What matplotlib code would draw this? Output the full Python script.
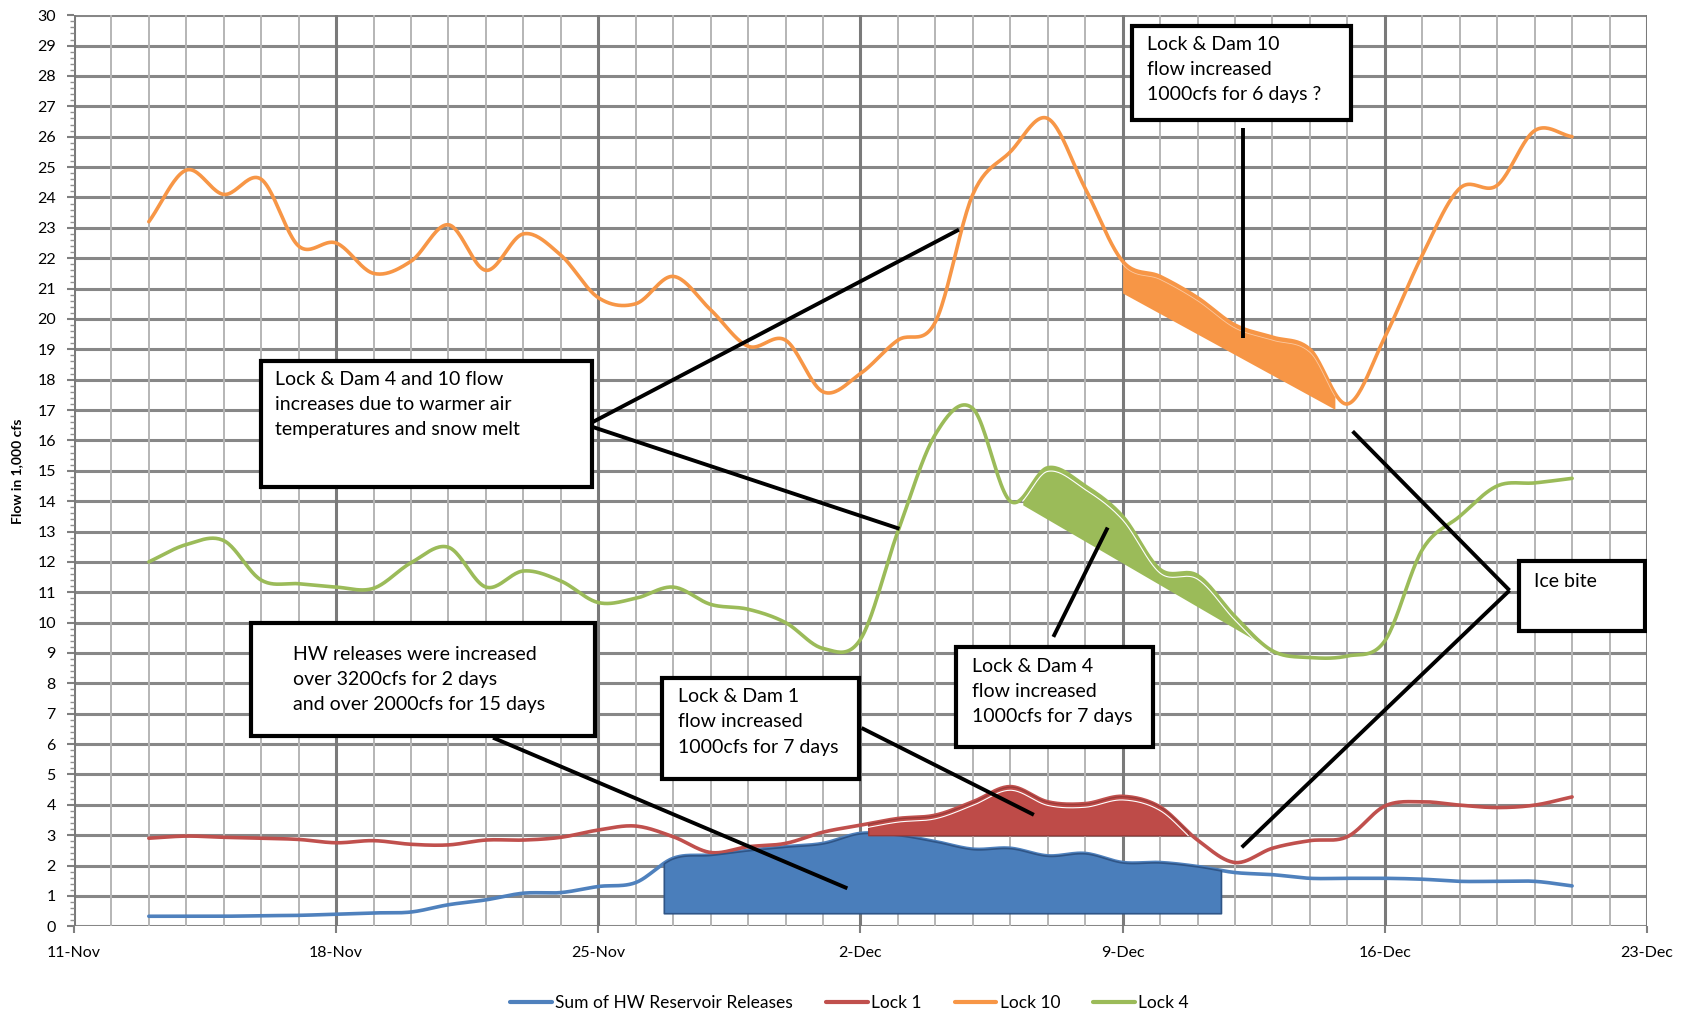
import numpy as np
import matplotlib
matplotlib.use('Agg')
import matplotlib.pyplot as plt
from matplotlib.patches import Rectangle

plt.rcParams['font.family'] = ['Lato', 'DejaVu Sans']

# days counted from 11-Nov (13-Nov .. 21-Dec)
days = np.arange(2, 41)
hw_releases = [0.33, 0.33, 0.33, 0.35, 0.36, 0.40, 0.44, 0.47, 0.71, 0.87, 1.09, 1.11, 1.31,
               1.44, 2.24, 2.35, 2.50, 2.62, 2.73, 3.06, 3.00, 2.79, 2.54, 2.57, 2.32, 2.40,
               2.10, 2.10, 1.97, 1.77, 1.70, 1.58, 1.58, 1.58, 1.55, 1.48, 1.48, 1.48, 1.33]
lock1 = [2.90, 2.97, 2.93, 2.90, 2.86, 2.75, 2.82, 2.70, 2.68, 2.84, 2.84, 2.93, 3.17,
         3.30, 2.95, 2.43, 2.62, 2.73, 3.10, 3.33, 3.55, 3.66, 4.10, 4.60, 4.10, 4.04,
         4.28, 3.93, 2.84, 2.10, 2.57, 2.82, 2.95, 3.96, 4.10, 3.99, 3.91, 3.99, 4.26]
lock10 = [23.2, 24.9, 24.1, 24.6, 22.4, 22.5, 21.5, 21.9, 23.1, 21.6, 22.8, 22.1, 20.7,
          20.5, 21.4, 20.3, 19.1, 19.3, 17.6, 18.2, 19.3, 19.9, 24.1, 25.5, 26.6, 24.3,
          21.9, 21.4, 20.7, 19.8, 19.4, 19.0, 17.2, 19.4, 22.1, 24.3, 24.4, 26.2, 26.0]
lock4 = [12.0, 12.57, 12.7, 11.4, 11.28, 11.17, 11.13, 11.97, 12.48, 11.17, 11.7, 11.37, 10.66,
         10.8, 11.17, 10.6, 10.44, 10.0, 9.15, 9.45, 13.0, 16.2, 17.05, 14.0, 15.1, 14.5,
         13.5, 11.75, 11.55, 10.2, 9.07, 8.85, 8.9, 9.4, 12.4, 13.5, 14.5, 14.6, 14.75]

tick_labels = ['11-Nov', '18-Nov', '25-Nov', '2-Dec', '9-Dec', '16-Dec', '23-Dec']

c_blue = '#4F81BD'
c_red = '#C0504D'
c_orange = '#F79646'
c_green = '#9BBB59'


def smooth(x, y, n=24):
    # Catmull-Rom curve through the points, like Excel's smoothed line
    x = np.asarray(x, float)
    y = np.asarray(y, float)
    px = np.concatenate([[2 * x[0] - x[1]], x, [2 * x[-1] - x[-2]]])
    py = np.concatenate([[2 * y[0] - y[1]], y, [2 * y[-1] - y[-2]]])
    t = np.linspace(0, 1, n, endpoint=False)
    xs, ys = [], []
    for i in range(1, len(px) - 2):
        for arr, out in ((px, xs), (py, ys)):
            p0, p1, p2, p3 = arr[i - 1], arr[i], arr[i + 1], arr[i + 2]
            out.append(0.5 * (2 * p1 + (-p0 + p2) * t + (2 * p0 - 5 * p1 + 4 * p2 - p3) * t ** 2
                              + (-p0 + 3 * p1 - 3 * p2 + p3) * t ** 3))
    xs.append([x[-1]])
    ys.append([y[-1]])
    return np.concatenate(xs), np.concatenate(ys)


fig = plt.figure(figsize=(16.99, 10.16), dpi=100)
ax = fig.add_axes([0.0435, 0.0883, 0.9259, 0.8967])

ax.set_xlim(0, 42)
ax.set_ylim(0, 30)
ax.set_xticks(np.arange(0, 43, 7))
ax.set_xticklabels(tick_labels)
ax.set_xticks(np.arange(0, 43, 1), minor=True)
ax.set_yticks(np.arange(0, 31, 1))
ax.set_yticks(np.arange(0, 30.01, 0.2), minor=True)

ax.grid(False)
for v in range(0, 31):
    ax.axhline(v, color='#878787', lw=2.2, zorder=0)
for d in range(0, 43):
    if d % 7 == 0:
        ax.axvline(d, color='#7a7a7a', lw=2.2, zorder=0.5)
    else:
        ax.axvline(d, color='#b5b5b5', lw=1.4, zorder=0.2)

for s in ax.spines.values():
    s.set_visible(False)
ax.tick_params(axis='both', which='major', labelsize=11.5, color='#808080', width=1.5, length=5)
ax.tick_params(axis='x', which='major', pad=9)
ax.tick_params(axis='y', which='major', pad=8)
ax.tick_params(axis='x', which='minor', length=0)
ax.tick_params(axis='y', which='minor', length=3, color='#909090', width=1)

fig.text(0.010, 0.536, 'Flow in 1,000 cfs', rotation=90, va='center', ha='center',
         fontsize=10, fontweight='bold')

series = [
    ('Sum of HW Reservoir Releases', hw_releases, c_blue),
    ('Lock 1', lock1, c_red),
    ('Lock 10', lock10, c_orange),
    ('Lock 4', lock4, c_green),
]
curves = {}
for name, vals, col in series:
    sx, sy = smooth(days, vals)
    curves[name] = (sx, sy)
    ax.plot(sx, sy, color=col, lw=2.6, label=name, zorder=3, solid_capstyle='round')

# shaded shapes marking the increases
sx, sy = curves['Sum of HW Reservoir Releases']
m = (sx >= 15.73) & (sx <= 30.65)
ax.fill_between(sx[m], 0.43, sy[m], color='#4A7EBB', edgecolor='#2F5587', lw=1.2, zorder=4)

sx, sy = curves['Lock 1']
m = (sx >= 21.2) & (sx <= 29.75) & (sy >= 3.0)
ax.fill_between(sx[m], 3.0, sy[m], color='#BE4B48', edgecolor='#9c3b39', lw=1, zorder=4)
ax.plot(sx[m], sy[m] - 0.12, color='white', lw=0.8, zorder=4.5)

sx, sy = curves['Lock 10']
m = (sx >= 28.0) & (sx <= 33.7)
base = 20.85 + (sx[m] - 28.0) * (17.0 - 20.85) / (33.7 - 28.0)
ax.fill_between(sx[m], base, np.maximum(sy[m], base), color=c_orange, lw=0, zorder=4)
ax.plot(sx[m], sy[m] - 0.1, color='#fbc8a0', lw=0.6, zorder=4.5)

sx, sy = curves['Lock 4']
m = (sx >= 25.3) & (sx <= 32.05)
base = 13.9 + (sx[m] - 25.3) * (9.05 - 13.9) / (32.05 - 25.3)
ax.fill_between(sx[m], base, np.maximum(sy[m], base), color=c_green, lw=0, zorder=4)
ax.plot(sx[m], sy[m] - 0.12, color='white', lw=0.8, zorder=4.5)

# callout lines
lines = [
    ((13.83, 16.59), (23.63, 22.94)),
    ((13.83, 16.45), (22.04, 13.09)),
    ((31.21, 26.3), (31.21, 19.37)),
    ((11.19, 6.21), (20.65, 1.25)),
    ((21.03, 6.53), (25.63, 3.67)),
    ((26.15, 9.53), (27.6, 13.13)),
    ((38.33, 11.06), (34.14, 16.3)),
    ((38.33, 11.06), (31.18, 2.6)),
]
for (x0, y0), (x1, y1) in lines:
    ax.plot([x0, x1], [y0, y1], color='black', lw=2.8, zorder=6, solid_capstyle='butt')

# callout boxes: (left, bottom, right, top) in data units, text, text offsets
boxes = [
    ((5.0, 14.45, 13.83, 18.62),
     'Lock & Dam 4 and 10 flow\nincreases due to warmer air\ntemperatures and snow melt', 0.37, 0.32),
    ((28.26, 26.54, 34.1, 29.65),
     'Lock & Dam 10\nflow increased\n1000cfs for 6 days ?', 0.4, 0.32),
    ((4.74, 6.28, 13.91, 9.99),
     'HW releases were increased\nover 3200cfs for 2 days\nand over 2000cfs for 15 days', 1.1, 0.75),
    ((15.71, 4.85, 20.97, 8.17),
     'Lock & Dam 1\nflow increased\n1000cfs for 7 days', 0.43, 0.32),
    ((23.55, 5.89, 28.81, 9.2),
     'Lock & Dam 4\nflow increased\n1000cfs for 7 days', 0.43, 0.35),
    ((38.59, 9.74, 41.94, 12.02), 'Ice bite', 0.4, 0.38),
]
for (l, b, r, t), txt, xoff, yoff in boxes:
    ax.add_patch(Rectangle((l, b), r - l, t - b, facecolor='white', edgecolor='black',
                           lw=3, zorder=7))
    ax.text(l + xoff, t - yoff, txt, ha='left', va='top', fontsize=14, linespacing=1.6,
            zorder=8)

leg = fig.legend(loc='center', bbox_to_anchor=(0.5, 0.0128), ncol=4, frameon=False,
                 fontsize=12.5, handlelength=2.4, columnspacing=1.9, handletextpad=0.2)
for h in leg.get_lines():
    h.set_linewidth(3)

fig.savefig('out.png', dpi=100)
